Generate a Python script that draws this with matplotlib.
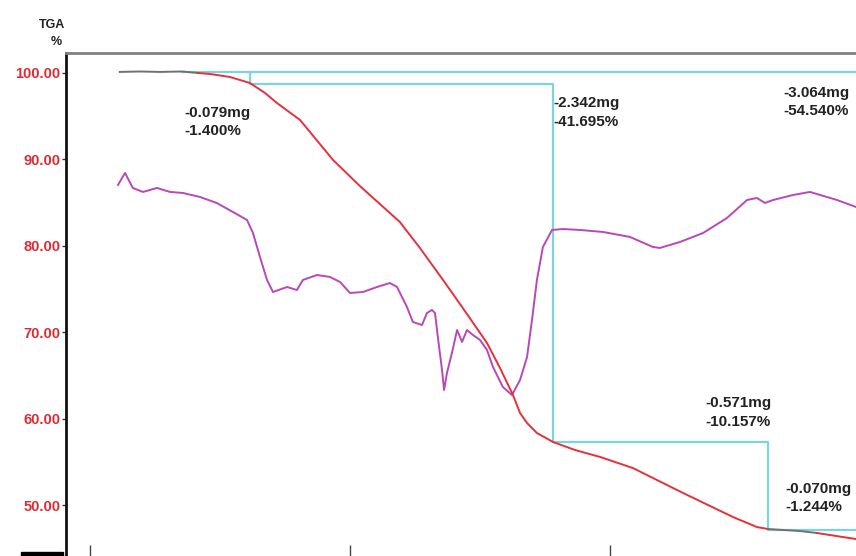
import matplotlib
matplotlib.use("Agg")
import matplotlib.pyplot as plt
from matplotlib.patches import Rectangle

# TGA curve (temperature in C, mass in %)
tga_flat_T = [111.5, 119.2, 126.9, 135.4, 141.5]
tga_flat_w = [100.12, 100.17, 100.12, 100.17, 100.0]
tga_T = [141.5, 146.2, 153.8, 161.5, 167.3, 171.9, 180.8, 187.0, 193.5, 203.8,
         219.2, 226.9, 235.8, 244.2, 252.7, 257.7, 262.7, 265.4, 268.1, 271.9,
         278.1, 286.5, 296.2, 308.8, 328.1, 347.3, 356.5, 360.8]
tga_w = [100.0, 99.88, 99.54, 98.84, 97.69, 96.53, 94.56, 92.30, 89.93, 86.92,
         82.75, 79.75, 76.04, 72.45, 68.75, 65.86, 62.73, 60.65, 59.49, 58.33,
         57.29, 56.37, 55.56, 54.28, 51.39, 48.61, 47.45, 47.22]
tga_flat2_T = [360.8, 373.1, 379.6]
tga_flat2_w = [47.22, 46.99, 46.76]
tga_end_T = [379.6, 394.6]
tga_end_w = [46.76, 46.06]

# DTA curve (plotted on the same scale)
dta_T = [110.8, 113.5, 116.5, 120.4, 125.8, 130.8, 135.8, 142.3, 148.8, 155.0,
         160.4, 162.7, 165.4, 168.1, 170.4, 175.8, 179.6, 181.9, 187.3, 192.3,
         196.2, 200.0, 205.0, 210.4, 215.4, 218.1, 221.9, 224.2, 227.7, 229.6,
         231.5, 232.7, 233.8, 235.4, 236.2, 237.3, 239.2, 241.2, 243.1, 245.0,
         247.3, 250.0, 252.7, 255.0, 258.8, 262.3, 265.4, 268.1, 270.0, 271.9,
         274.2, 277.7, 281.9, 288.5, 297.3, 307.7, 316.5, 319.2, 326.9, 335.8,
         345.0, 352.7, 356.5, 359.6, 362.7, 370.4, 376.9, 380.8, 387.3, 394.6]
dta_v = [87.04, 88.43, 86.69, 86.23, 86.69, 86.23, 86.11, 85.65, 84.95, 83.91,
         82.99, 81.48, 78.70, 76.04, 74.65, 75.23, 74.88, 76.04, 76.62, 76.39,
         75.81, 74.54, 74.65, 75.23, 75.69, 75.23, 72.92, 71.18, 70.83, 72.22,
         72.57, 72.22, 69.44, 65.63, 63.31, 65.28, 67.59, 70.25, 68.87, 70.25,
         69.68, 69.10, 67.94, 65.97, 63.66, 62.73, 64.47, 67.13, 71.41, 76.04,
         79.86, 81.83, 81.94, 81.83, 81.60, 81.02, 79.86, 79.75, 80.44, 81.48,
         83.22, 85.30, 85.53, 84.95, 85.30, 85.88, 86.23, 85.88, 85.30, 84.49]

# step analysis brackets
outer_T = [135.4, 400.0]
outer_w = [100.1, 100.1]
step_T = [161.5, 161.5, 278.1, 278.1, 360.8, 360.8, 400.0]
step_w = [100.1, 98.73, 98.73, 57.29, 57.29, 47.11, 47.11]

# step labels: (T, %, text)
labels_T = [136.5, 278.1, 366.5, 336.5, 367.3]
labels_w = [96.2, 97.3, 98.5, 62.6, 52.7]
labels_txt = ["-0.079mg\n-1.400%", "-2.342mg\n-41.695%", "-3.064mg\n-54.540%",
              "-0.571mg\n-10.157%", "-0.070mg\n-1.244%"]

yticks = [50, 60, 70, 80, 90, 100]
xticks = [100, 200, 300]

fig = plt.figure(figsize=(8.56, 5.56), dpi=100)
ax = fig.add_axes([66 / 856, 0, 790 / 856, 503 / 556])

ax.plot(outer_T, outer_w, color='#7fd3df', lw=1.6)
ax.plot(step_T, step_w, color='#7fd3df', lw=1.6)
ax.plot(dta_T, dta_v, color='#b848b8', lw=1.4)
ax.plot(tga_flat_T, tga_flat_w, color='#707070', lw=1.4)
ax.plot(tga_T, tga_w, color='#e8303a', lw=1.4)
ax.plot(tga_flat2_T, tga_flat2_w, color='#707070', lw=1.4)
ax.plot(tga_end_T, tga_end_w, color='#e8303a', lw=1.4)

for t, w, s in zip(labels_T, labels_w, labels_txt):
    ax.text(t, w, s, fontsize=11, fontweight='bold', family='Liberation Sans',
            color='#222222', va='top', ha='left', linespacing=1.4)

ax.set_xlim(90.8, 394.6)
ax.set_ylim(44.1, 102.31)
ax.set_yticks(yticks)
ax.set_yticklabels([f'{v:.2f}' for v in yticks], color='#e02a34',
                   fontweight='bold', family='Liberation Sans', fontsize=10.5)
ax.set_xticks(xticks)
ax.set_xticklabels([])
ax.tick_params(axis='y', direction='out', length=3, width=1, pad=1,
               colors='#333333', labelcolor='#e02a34')
ax.tick_params(axis='x', direction='in', length=8, width=1, colors='#444444')

ax.spines['left'].set_linewidth(2)
ax.spines['left'].set_color('#111111')
ax.spines['top'].set_linewidth(2)
ax.spines['top'].set_color('#808080')
ax.spines['right'].set_visible(False)
ax.spines['bottom'].set_visible(False)

fig.text(65 / 856, 1 - 25 / 556, 'TGA', ha='right', va='center', fontsize=9,
         fontweight='bold', family='Liberation Sans', color='#222222')
fig.text(62 / 856, 1 - 42 / 556, '%', ha='right', va='center', fontsize=9,
         fontweight='bold', family='Liberation Sans', color='#222222')
fig.patches.append(Rectangle((21 / 856, 0), 42 / 856, 4 / 556,
                             transform=fig.transFigure, color='black'))

fig.savefig('out.png', dpi=100)
